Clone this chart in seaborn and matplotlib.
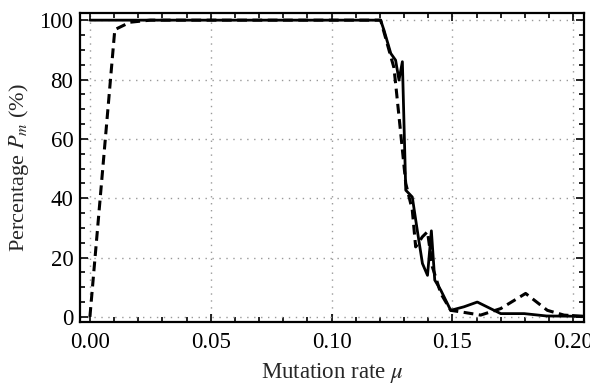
import numpy as np
import pandas as pd
import matplotlib
matplotlib.use("Agg")
import matplotlib.pyplot as plt
from matplotlib.ticker import MultipleLocator
import seaborn as sns

# ---------------------------------------------------------------------------
# Data
# ---------------------------------------------------------------------------

mu_solid = [0.000, 0.1203, 0.1217, 0.1245, 0.1265, 0.1279, 0.1293, 0.1307,
            0.1334, 0.1355, 0.1376, 0.1397, 0.1413, 0.1427, 0.1452, 0.1493,
            0.1548, 0.1603, 0.1700, 0.1797, 0.1890, 0.2040]
pm_solid = [100, 100, 96.6, 88.8, 86.5, 79.8, 86.0, 42.7,
            40.4, 29.0, 18.0, 14.0, 29.0, 12.4, 9.0, 2.2,
            3.4, 5.0, 1.1, 1.1, 0.3, 0.2]

mu_dashed = [0.000, 0.0103, 0.0166, 0.0250, 0.1203, 0.1258, 0.1265, 0.1286,
             0.1307, 0.1334, 0.1348, 0.1376, 0.1397, 0.1417, 0.1452, 0.1493,
             0.1534, 0.1617, 0.1700, 0.1803, 0.1893, 0.1962, 0.2040]
pm_dashed = [0.0, 96.8, 99.3, 100, 100, 84.0, 78.7, 62.0,
             45.0, 36.0, 23.6, 27.0, 28.7, 16.9, 7.9, 2.2,
             1.7, 0.6, 2.8, 7.9, 2.2, 0.6, 0.2]

X_TICKS = [0.00, 0.05, 0.10, 0.15, 0.20]
Y_TICKS = [0, 20, 40, 60, 80, 100]

# ---------------------------------------------------------------------------
# Plot
# ---------------------------------------------------------------------------

sns.set_theme(style="ticks")
plt.rcParams['font.family'] = ['Liberation Serif', 'DejaVu Serif']
plt.rcParams['mathtext.fontset'] = 'stix'

fig = plt.figure(figsize=(5.9, 3.86), dpi=100)
ax = fig.add_axes([0.136, 0.166, 0.854, 0.801])

solid = pd.DataFrame({'mu': mu_solid, 'pm': pm_solid})
dashed = pd.DataFrame({'mu': mu_dashed, 'pm': pm_dashed})

sns.lineplot(data=solid, x='mu', y='pm', ax=ax, color='black',
             linewidth=2.0, estimator=None, zorder=3)
sns.lineplot(data=dashed, x='mu', y='pm', ax=ax, color='black',
             linewidth=2.2, estimator=None, dashes=False, zorder=3)
ax.lines[-1].set_dashes([3.2, 1.8])

ax.set_xlim(-0.004, 0.2045)
ax.set_ylim(-1.7, 102.5)
ax.set_xticks(X_TICKS)
ax.set_xticklabels([f'{t:.2f}' for t in X_TICKS])
ax.set_yticks(Y_TICKS)
ax.xaxis.set_minor_locator(MultipleLocator(0.01))
ax.yaxis.set_minor_locator(MultipleLocator(5))

ax.tick_params(which='both', direction='in', top=True, right=True,
               colors='black', labelsize=16.5, width=1.2)
ax.tick_params(which='major', length=6, pad=5)
ax.tick_params(axis='x', which='major', pad=7)
ax.tick_params(which='minor', length=3.5)
for side in ax.spines.values():
    side.set_linewidth(1.6)
    side.set_color('black')

ax.grid(True, which='major', linestyle=(0, (1, 4)), color='#999999',
        linewidth=1.0, zorder=0)

ax.set_xlabel(r'Mutation rate $\mu$', fontsize=16.5, labelpad=6)
ax.set_ylabel(r'Percentage $P_m$ (%)', fontsize=16, labelpad=6)

fig.savefig('out.png', dpi=100)
